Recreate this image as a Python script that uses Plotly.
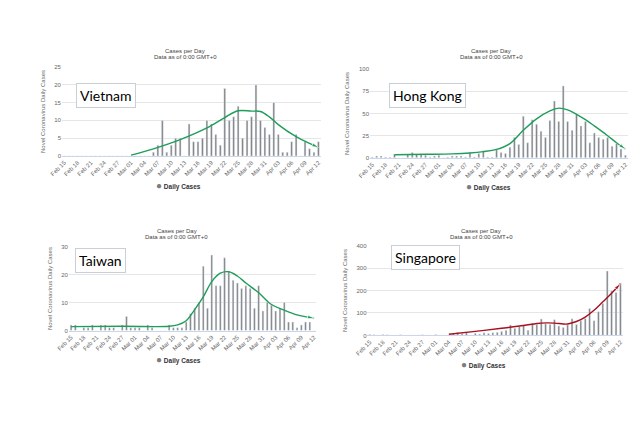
import plotly.graph_objects as go
import pandas as pd

# ---------------- data ----------------
dates = pd.date_range("2020-02-15", "2020-04-12", freq="D")
countries = ["Vietnam", "Hong Kong", "Taiwan", "Singapore"]

vietnam_cases = [0]*20 + [1, 3, 10, 1, 3, 5, 5, 0, 9, 4, 4, 5, 10, 9, 6, 3, 19, 10, 11, 14,
                          5, 10, 11, 20, 10, 8, 6, 15, 6, 1, 1, 4, 6, 0, 4, 2, 1, 4]
hongkong_cases = [1, 2, 2, 1, 1, 4, 0, 0, 4, 6, 4, 4, 3, 1, 2, 3, 0, 1, 2, 2, 2, 1, 6, 1, 5, 8,
                  1, 1, 9, 6, 5, 12, 23, 15, 47, 17, 43, 38, 30, 23, 42, 64, 41, 81, 41, 31, 49,
                  36, 41, 17, 28, 23, 21, 23, 13, 16, 10, 3]
taiwan_cases = [2, 2, 0, 1, 1, 2, 0, 2, 2, 1, 1, 0, 2, 5, 1, 1, 1, 0, 2, 1, 0, 0, 0, 2, 1, 1,
                1, 3, 6, 8, 10, 23, 8, 27, 16, 16, 26, 21, 18, 17, 15, 16, 15, 8, 16, 7, 10, 9,
                7, 8, 10, 3, 3, 1, 2, 3, 3, 0]
singapore_cases = [4, 3, 2, 4, 3, 1, 1, 3, 0, 1, 1, 2, 3, 2, 0, 4, 2, 2, 2, 7, 13, 8, 12, 2,
                   10, 6, 12, 9, 12, 14, 17, 23, 47, 32, 40, 47, 23, 54, 49, 73, 52, 49, 70, 42,
                   35, 47, 74, 49, 65, 75, 120, 66, 106, 142, 287, 198, 191, 233]

# trend lines: (day index from Feb 15, value)
vietnam_trend_days = [15, 20, 26, 32, 36, 39, 42, 44, 46, 48, 52, 55, 57]
vietnam_trend_vals = [0.2, 2.0, 4.6, 7.9, 10.8, 12.7, 12.6, 12.5, 11.0, 8.8, 5.4, 3.5, 2.4]
hongkong_trend_days = [5, 12, 18, 22, 25, 28, 31, 34, 37, 40, 42, 44, 46, 48, 50, 53, 55, 57]
hongkong_trend_vals = [3.5, 4.0, 4.5, 5.5, 7.0, 9.5, 16, 31, 44, 53, 56, 54, 49, 43, 36, 25, 17, 10]
taiwan_trend_days = [0, 12, 23, 25, 27, 29, 31, 33, 35, 37, 39, 41, 44, 47, 50, 53, 57]
taiwan_trend_vals = [1.4, 1.5, 1.5, 2.0, 3.5, 7.5, 12, 17.5, 20.5, 21, 19.5, 17, 13.5, 9.3, 7.3, 5.6, 4.4]
singapore_trend_days = [18, 24, 30, 35, 38, 40, 42, 44, 45, 47, 49, 51, 53, 55, 57]
singapore_trend_vals = [5, 18, 32, 44, 53, 56, 55, 51, 51, 62, 82, 112, 150, 188, 230]

y_maxes = [25, 100, 30, 400]
y_dticks = [5, 25, 10, 100]
bar_label = "Daily Cases"
chart_title = "Cases per Day"
chart_subtitle = "Data as of 0:00 GMT+0"
y_title = "Novel Coronavirus Daily Cases"

# ---------------- layout geometry (pixels) ----------------
W, H = 644, 443
px_domains = [(51, 315), (365.4, 628.3), (58.1, 310.5), (362.8, 623.2)]
py_domains = [(65, 155), (67, 157), (247, 332), (246, 337)]  # (top, bottom)
title_pos = [(177, 49, 55), (489, 49, 55), (168, 231, 237), (479, 231, 237)]
legend_pos = [(170, 185), (486, 186), (170, 361), (481, 366)]
box_pos = [(95.5, 94), (424.5, 93.5), (90.5, 261.5), (422, 258.5)]

cases = [vietnam_cases, hongkong_cases, taiwan_cases, singapore_cases]
trend_days = [vietnam_trend_days, hongkong_trend_days, taiwan_trend_days, singapore_trend_days]
trend_vals = [vietnam_trend_vals, hongkong_trend_vals, taiwan_trend_vals, singapore_trend_vals]
trend_colors = ["#1f9d5a", "#1f9d5a", "#1f9d5a", "#a8101f"]

fig = go.Figure()
annotations = []
layout_axes = {}
for i in range(4):
    xa = "x" if i == 0 else f"x{i+1}"
    ya = "y" if i == 0 else f"y{i+1}"
    xkey = "xaxis" if i == 0 else f"xaxis{i+1}"
    ykey = "yaxis" if i == 0 else f"yaxis{i+1}"
    fig.add_trace(go.Bar(x=dates, y=cases[i], marker_color="#7c7c7c", xaxis=xa, yaxis=ya,
                         name=bar_label, showlegend=False))
    tx = [dates[d] for d in trend_days[i]]
    n = len(tx)
    fig.add_trace(go.Scatter(x=tx, y=trend_vals[i], mode="lines+markers", xaxis=xa, yaxis=ya,
                             line=dict(color=trend_colors[i], width=1.4, shape="spline"),
                             marker=dict(symbol="arrow", size=[0]*(n-1)+[7], angleref="previous",
                                         color=trend_colors[i]),
                             showlegend=False))
    x0, x1 = px_domains[i]
    top, bot = py_domains[i]
    layout_axes[xkey] = dict(domain=[x0/W, x1/W], anchor=ya, type="date",
                             range=[dates[0] - pd.Timedelta(hours=12), dates[-1] + pd.Timedelta(hours=12)],
                             tick0=dates[0], dtick=3*86400000, tickformat="%b %d",
                             tickangle=-45, tickfont=dict(size=6, color="#666666", family="Liberation Sans"),
                             showgrid=False, showline=True, linecolor="#ccd6eb", linewidth=1,
                             ticks="", fixedrange=True)
    layout_axes[ykey] = dict(domain=[1-bot/H, 1-top/H], anchor=xa, range=[0, y_maxes[i]],
                             dtick=y_dticks[i], tickfont=dict(size=6, color="#666666", family="Liberation Sans"),
                             gridcolor="#e6e6e6", gridwidth=1, zeroline=False, showline=False,
                             title=dict(text=y_title, font=dict(size=6, color="#666666", family="Liberation Sans"),
                                        standoff=8),
                             ticks="", fixedrange=True)
    cx, ty1, ty2 = title_pos[i]
    annotations.append(dict(x=cx/W, y=1-ty1/H, xref="paper", yref="paper", text=chart_title,
                            showarrow=False, xanchor="center", yanchor="middle",
                            font=dict(size=6, color="#444444", family="Liberation Sans")))
    annotations.append(dict(x=cx/W, y=1-ty2/H, xref="paper", yref="paper", text=chart_subtitle,
                            showarrow=False, xanchor="center", yanchor="middle",
                            font=dict(size=6, color="#444444", family="Liberation Sans")))
    lx, ly = legend_pos[i]
    annotations.append(dict(x=lx/W, y=1-ly/H, xref="paper", yref="paper",
                            text="<span style='color:#7c7c7c;font-size:10px'>●</span> <b>" + bar_label + "</b>",
                            showarrow=False, xanchor="center", yanchor="middle",
                            font=dict(size=6.5, color="#333333", family="Liberation Sans")))
    bx, by = box_pos[i]
    annotations.append(dict(x=bx/W, y=1-by/H, xref="paper", yref="paper", text=countries[i],
                            showarrow=False, xanchor="center", yanchor="middle",
                            font=dict(size=14, color="#000000", family="Lato"),
                            bgcolor="#ffffff", bordercolor="#c9cfd6", borderwidth=1, borderpad=3))

fig.update_layout(width=W, height=H, margin=dict(l=0, r=0, t=0, b=0),
                  paper_bgcolor="#ffffff", plot_bgcolor="#ffffff", showlegend=False,
                  bargap=0.6, annotations=annotations, **layout_axes)

fig.write_html("out.html")
